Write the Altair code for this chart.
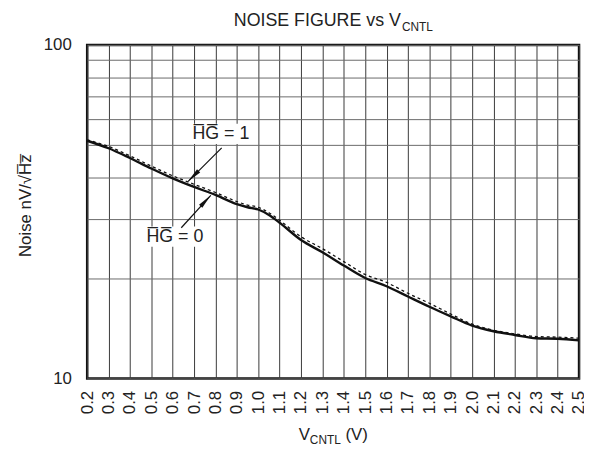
import altair as alt
import pandas as pd

# ---- data ----
v_cntl = [0.2, 0.3, 0.4, 0.5, 0.6, 0.7, 0.8, 0.9, 0.95, 1.0, 1.05, 1.1, 1.2, 1.3,
          1.4, 1.5, 1.6, 1.7, 1.8, 1.9, 2.0, 2.1, 2.2, 2.3, 2.4, 2.5]
noise_hg0 = [51.6, 49.0, 45.8, 42.6, 39.8, 37.5, 35.5, 33.3, 32.6, 32.1, 30.9, 29.3, 26.0, 23.9,
             21.8, 20.0, 18.9, 17.6, 16.4, 15.35, 14.4, 13.85, 13.5, 13.2, 13.15, 13.0]
noise_hg1 = [51.9, 49.6, 46.5, 43.3, 40.5, 38.2, 36.1, 33.9, 33.1, 32.6, 31.4, 29.8, 26.6, 24.5,
             22.4, 20.5, 19.4, 18.0, 16.8, 15.6, 14.55, 13.95, 13.6, 13.35, 13.3, 13.2]

x_ticks = [0.2, 0.3, 0.4, 0.5, 0.6, 0.7, 0.8, 0.9, 1.0, 1.1, 1.2, 1.3, 1.4, 1.5,
           1.6, 1.7, 1.8, 1.9, 2.0, 2.1, 2.2, 2.3, 2.4, 2.5]
y_ticks = [10, 20, 30, 40, 50, 60, 70, 80, 90, 100]

ann_text = ["H\u0305G\u0305 = 1", "H\u0305G\u0305 = 0"]
ann_x = [0.825, 0.610]
ann_y = [54.1, 26.6]

arrow_x0 = [0.829, 0.640]
arrow_y0 = [49.1, 28.3]
arrow_x1 = [0.672, 0.778]
arrow_y1 = [39.0, 35.4]
arrow_angle = [225, 43]

title_main = "NOISE FIGURE vs V"
title_sub = "CNTL"
xtitle_main = "V"
xtitle_sub = "CNTL"
xtitle_tail = "(V)"
ytitle = "Noise nV/\u221aH\u0305z\u0305"

FONT = "Liberation Sans"

df = pd.DataFrame({"v": v_cntl, "hg0": noise_hg0, "hg1": noise_hg1})
ann = pd.DataFrame({"t": ann_text, "x": ann_x, "y": ann_y})
arr = pd.DataFrame({"x0": arrow_x0, "y0": arrow_y0, "x1": arrow_x1, "y1": arrow_y1, "ang": arrow_angle})

xs = alt.Scale(domain=[0.2, 2.5], nice=False, zero=False)
ys = alt.Scale(type="log", domain=[10, 100], nice=False)

x_axis = alt.Axis(values=x_ticks, format=".1f", labelAngle=270, ticks=False, tickSize=0,
                  labelPadding=12, labelFlush=False, labelOverlap=False, grid=True,
                  gridColor="#3a3a3a", gridWidth=1, domain=False, labelFontSize=17,
                  labelColor="#222", title=None)
y_axis = alt.Axis(values=y_ticks,
                  labelExpr="(datum.value == 10 || datum.value == 100) ? ('' + datum.value) : ''",
                  ticks=False, tickSize=0, labelPadding=16, labelFlush=False, labelOverlap=False,
                  grid=True, gridColor="#6a6a6a", gridWidth=1, domain=False, labelFontSize=17,
                  labelColor="#222", title=ytitle, titleX=-62, titleY=162, titleAngle=270,
                  titleAlign="center", titleBaseline="middle", titleFontSize=17,
                  titleFontWeight="normal", titleColor="#222")


def X(field):
    return alt.X(field, scale=xs, axis=x_axis)


def Y(field):
    return alt.Y(field, scale=ys, axis=y_axis)


solid = alt.Chart(df).mark_line(color="#111", strokeWidth=2.4, interpolate="monotone").encode(
    x=X("v:Q"), y=Y("hg0:Q"),
)
dashed = alt.Chart(df).mark_line(color="#111", strokeWidth=1.3, strokeDash=[3, 3],
                                 interpolate="monotone").encode(
    x=X("v:Q"), y=Y("hg1:Q"),
)
rules = alt.Chart(arr).mark_rule(color="#111", strokeWidth=1.2).encode(
    x=X("x0:Q"), y=Y("y0:Q"), x2="x1:Q", y2="y1:Q",
)
heads = alt.Chart(arr).mark_point(shape="M0,0L0.3,2L-0.3,2Z", filled=True, color="#111",
                                  size=225, opacity=1, strokeWidth=0).encode(
    x=X("x1:Q"), y=Y("y1:Q"),
    angle=alt.Angle("ang:Q", scale=None),
)
boxes = alt.Chart(ann).mark_point(shape="M-1,-0.32L1,-0.32L1,0.32L-1,0.32Z", filled=True,
                                  color="white", size=4096, opacity=1, strokeWidth=0).encode(
    x=X("x:Q"), y=Y("y:Q"),
)
labels = alt.Chart(ann).mark_text(font=FONT, fontSize=18, color="#222", align="center",
                                  baseline="middle").encode(
    x=X("x:Q"), y=Y("y:Q"), text="t:N",
)


def txt(s, x, y, size, align="left"):
    return alt.Chart(pd.DataFrame({"t": [s]})).mark_text(
        font=FONT, fontSize=size, color="#222", align=align, baseline="alphabetic"
    ).encode(text="t:N", x=alt.value(x), y=alt.value(y))


t1 = txt(title_main, 317, -19, 18, "right")
t2 = txt(title_sub, 318, -14, 12, "left")
x1 = txt(xtitle_main, 225, 399, 17, "right")
x2 = txt(xtitle_sub, 225, 403, 12, "left")
x3 = txt(xtitle_tail, 261, 399, 17, "left")

chart = alt.layer(solid, dashed, boxes, rules, heads, labels, t1, t2, x1, x2, x3).properties(
    width=497, height=337,
    autosize=alt.AutoSizeParams(type="none"),
    padding={"left": 80, "top": 35, "right": 5, "bottom": 68},
).configure_view(stroke="#111", strokeWidth=2.5).configure_axis(
    labelFont=FONT, titleFont=FONT
)

chart.save("out.html", embed_options={"renderer": "svg", "actions": False})
